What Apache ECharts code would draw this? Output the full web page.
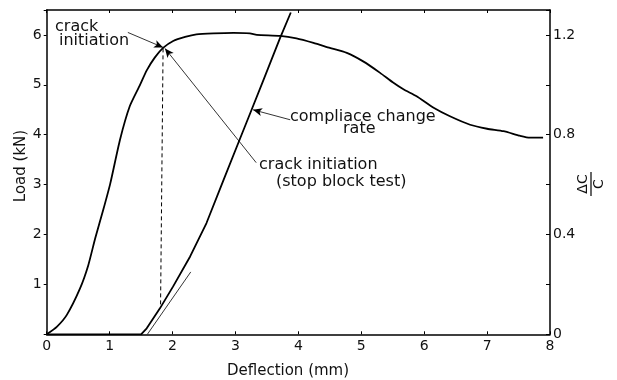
<!DOCTYPE html>
<html>
<head>
<meta charset="utf-8">
<script src="https://cdn.jsdelivr.net/npm/echarts@6/dist/echarts.min.js"></script>
<style>html,body{margin:0;padding:0;background:#fff;}#c{width:617px;height:380px;}</style>
</head>
<body>
<div id="c"></div>
<script>
// Load curve (left axis, kN)
var loadX = [0,0.16,0.32,0.53,0.66,0.77,0.90,1.01,1.165,1.32,1.48,1.59,1.72,1.85,2.01,2.20,2.38,2.65,2.97,3.23,3.34,3.71,3.97,4.24,4.50,4.77,5.03,5.30,5.50,5.67,5.88,6.15,6.41,6.73,7.00,7.26,7.52,7.68,7.89];
var loadY = [0,0.15,0.39,0.92,1.38,1.92,2.50,3.02,3.90,4.57,4.99,5.29,5.55,5.74,5.88,5.96,6.01,6.03,6.04,6.03,6.00,5.98,5.93,5.84,5.74,5.64,5.47,5.24,5.05,4.91,4.77,4.54,4.37,4.20,4.12,4.07,3.98,3.94,3.94];
// Compliance change rate (right axis, dC/C)
var compX = [0,1.50,1.59,1.80,2.01,2.28,2.54,2.81,3.05,3.26,3.44,3.71,3.88];
var compY = [0,0,0.024,0.104,0.192,0.312,0.446,0.618,0.770,0.902,1.016,1.188,1.290];
// Tangent line to compliance curve (right axis)
var tanX = [1.60,2.29];
var tanY = [0,0.25];
// Crack initiation dashed marker (left axis)
var dashX = [1.81,1.85];
var dashY = [0.60,5.74];
// Axis ticks
var xTicks = [0,1,2,3,4,5,6,7,8];
var leftTicks = [1,2,3,4,5,6];
var rightTicks = [0,0.4,0.8,1.2];
// Annotation arrows [fromX, fromY, toX, toY] in left-axis units
var arrows = [
  [1.29,6.05,1.85,5.75],
  [3.33,3.44,1.88,5.73],
  [3.87,4.30,3.28,4.50]
];

function pairs(xs, ys){ return xs.map(function(x,i){ return [x, ys[i]]; }); }

var FONT = 'DejaVu Sans';
var chart = echarts.init(document.getElementById('c'), null, {renderer:'canvas'});
var lineBase = {type:'line', symbol:'none', animation:false, silent:true};

chart.setOption({
  animation:false,
  backgroundColor:'#fff',
  textStyle:{fontFamily:FONT, color:'#111'},
  grid:{left:46.7, right:67, top:10, bottom:45.7},
  xAxis:[{
    type:'value', min:0, max:8, interval:1, position:'bottom',
    axisLine:{show:true, onZero:false, lineStyle:{color:'#000', width:1.5}},
    axisTick:{show:true, inside:true, length:3, lineStyle:{color:'#000'}},
    axisLabel:{fontFamily:FONT, fontSize:14, color:'#111', margin:5,
      formatter:function(v){ return xTicks.indexOf(v) >= 0 ? String(v) : ''; }},
    splitLine:{show:false}
  },{
    type:'value', min:0, max:8, interval:1, position:'top',
    axisLine:{show:true, onZero:false, lineStyle:{color:'#000', width:1.5}},
    axisTick:{show:true, inside:true, length:3, lineStyle:{color:'#000'}},
    axisLabel:{show:false}, splitLine:{show:false}
  }],
  yAxis:[{
    type:'value', min:0, max:6.5, interval:1, position:'left',
    axisLine:{show:true, onZero:false, lineStyle:{color:'#000', width:1.5}},
    axisTick:{show:true, inside:false, length:3, lineStyle:{color:'#000'}},
    axisLabel:{fontFamily:FONT, fontSize:14, color:'#111', margin:5,
      formatter:function(v){ return leftTicks.indexOf(v) >= 0 ? String(v) : ''; }},
    splitLine:{show:false}
  },{
    type:'value', min:0, max:1.3, interval:0.2, position:'right',
    axisLine:{show:true, onZero:false, lineStyle:{color:'#000', width:1.5}},
    axisTick:{show:true, inside:true, length:4, lineStyle:{color:'#000'}},
    axisLabel:{fontFamily:FONT, fontSize:14, color:'#111', margin:3,
      formatter:function(v){
        var r = Math.round(v*10)/10;
        for (var i=0;i<rightTicks.length;i++){ if (Math.abs(rightTicks[i]-r)<1e-6) return String(rightTicks[i]); }
        return '';
      }},
    splitLine:{show:false}
  }],
  series:[
    Object.assign({}, lineBase, {name:'Load', xAxisIndex:0, yAxisIndex:0, smooth:0.2,
      data:pairs(loadX, loadY), lineStyle:{color:'#000', width:1.8, join:'round'}}),
    Object.assign({}, lineBase, {name:'Compliance change rate', xAxisIndex:0, yAxisIndex:1, smooth:false,
      data:pairs(compX, compY), lineStyle:{color:'#000', width:1.8, join:'round'}}),
    Object.assign({}, lineBase, {name:'Tangent', xAxisIndex:0, yAxisIndex:1,
      data:pairs(tanX, tanY), lineStyle:{color:'#000', width:0.8}}),
    Object.assign({}, lineBase, {name:'Crack initiation', xAxisIndex:0, yAxisIndex:0,
      data:pairs(dashX, dashY), lineStyle:{color:'#000', width:1, type:[4,3]}}),
    Object.assign({}, lineBase, {name:'Arrows', xAxisIndex:0, yAxisIndex:0, data:[],
      markLine:{silent:true, animation:false, symbol:['none','arrow'], symbolSize:[6,9],
        label:{show:false}, lineStyle:{color:'#000', width:0.8, type:'solid'},
        data:arrows.map(function(a){ return [{coord:[a[0],a[1]]},{coord:[a[2],a[3]]}]; })}})
  ],
  graphic:[
    {type:'text', x:288, y:371, style:{text:'Deflection (mm)', font:'15px "DejaVu Sans"', fill:'#111', align:'center', verticalAlign:'middle'}},
    {type:'text', x:21, y:166, rotation:Math.PI/2, style:{text:'Load (kN)', font:'15px "DejaVu Sans"', fill:'#111', align:'center', verticalAlign:'middle'}},
    {type:'text', left:55, top:19, style:{text:'crack', font:'16px "DejaVu Sans"', fill:'#111'}},
    {type:'text', left:59, top:33, style:{text:'initiation', font:'16px "DejaVu Sans"', fill:'#111'}},
    {type:'text', left:290, top:109, style:{text:'compliace change', font:'16px "DejaVu Sans"', fill:'#111'}},
    {type:'text', left:343, top:121, style:{text:'rate', font:'16px "DejaVu Sans"', fill:'#111'}},
    {type:'text', left:259, top:157, style:{text:'crack initiation', font:'16px "DejaVu Sans"', fill:'#111'}},
    {type:'text', left:276, top:174, style:{text:'(stop block test)', font:'16px "DejaVu Sans"', fill:'#111'}},
    {type:'group', x:591, y:184, rotation:Math.PI/2, children:[
      {type:'text', x:0, y:-1, style:{text:'\u0394C', font:'14px "DejaVu Sans"', fill:'#111', align:'center', verticalAlign:'bottom'}},
      {type:'line', shape:{x1:-12, y1:0, x2:12, y2:0}, style:{stroke:'#000', lineWidth:1.2}},
      {type:'text', x:0, y:1, style:{text:'C', font:'14px "DejaVu Sans"', fill:'#111', align:'center', verticalAlign:'top'}}
    ]}
  ]
});
</script>
</body>
</html>
